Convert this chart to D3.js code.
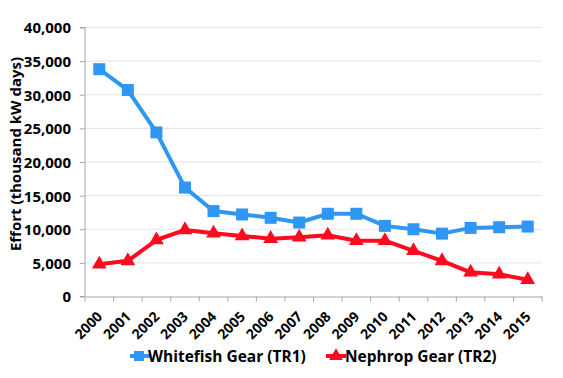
<!DOCTYPE html>
<html><head><meta charset="utf-8">
<script src="https://cdn.jsdelivr.net/npm/d3@7"></script>
<style>body{margin:0;background:#fff;} text{font-family:"Open Sans",Lato,sans-serif;font-weight:bold;}</style>
</head><body>
<svg id="c" width="563" height="378"></svg>
<script>
const years = ["2000","2001","2002","2003","2004","2005","2006","2007","2008","2009","2010","2011","2012","2013","2014","2015"];
const whitefish = [33800,30700,24400,16200,12700,12200,11700,11000,12300,12300,10500,10000,9350,10200,10300,10400];
const nephrop = [4800,5300,8400,9900,9400,9000,8600,8800,9100,8300,8300,6800,5300,3600,3300,2500];
const yTicks = [0,5000,10000,15000,20000,25000,30000,35000,40000];
const seriesNames = ["Whitefish Gear (TR1)","Nephrop Gear (TR2)"];
const blue = "#2f96f3", red = "#ff0a1e";

const svg = d3.select("#c");
const L = 85, R = 542, T = 27.5, B = 296.5;
const x = d3.scaleBand().domain(years).range([L, R]);
const y = d3.scaleLinear().domain([0, 40000]).range([B, T]);

// gridlines
svg.append("g").selectAll("line").data(yTicks.filter(d => d > 0)).join("line")
  .attr("x1", L).attr("x2", R).attr("y1", d => y(d)).attr("y2", d => y(d))
  .attr("stroke", "#e3e3e3").attr("stroke-width", 1);

// y axis
const ya = svg.append("g").attr("transform", `translate(${L},0)`)
  .call(d3.axisLeft(y).tickValues(yTicks).tickFormat(d3.format(",")).tickSize(5).tickPadding(9));
ya.select(".domain").attr("stroke", "#a6a6a6").attr("d", `M-5,${B}H0V${T}H-5`);
ya.selectAll(".tick line").attr("stroke", "#a6a6a6");
ya.selectAll(".tick text").attr("font-size", 15).attr("fill", "#000").attr("dy", "0.36em");

// x axis
const xa = svg.append("g").attr("transform", `translate(0,${B})`)
  .call(d3.axisBottom(x).tickSize(0).tickFormat(d => d));
xa.select(".domain").attr("stroke", "#a6a6a6");
xa.selectAll(".tick text")
  .attr("font-size", 14).attr("fill", "#000")
  .attr("text-anchor", "end")
  .attr("y", 0).attr("dy", "0")
  .attr("transform", "translate(4,21) rotate(-45)");
// boundary ticks
svg.append("g").selectAll("line").data(d3.range(years.length + 1)).join("line")
  .attr("x1", i => L + i * x.step()).attr("x2", i => L + i * x.step())
  .attr("y1", B).attr("y2", B + 5).attr("stroke", "#a6a6a6");

// y label
svg.append("text").attr("transform", `translate(21,154) rotate(-90)`)
  .attr("text-anchor", "middle").attr("font-size", 15).text("Effort (thousand kW days)");

const cx = d => x(d) + x.bandwidth() / 2;
const line = d3.line().x((d, i) => cx(years[i])).y(d => y(d));

svg.append("path").datum(whitefish).attr("d", line).attr("fill", "none")
  .attr("stroke", blue).attr("stroke-width", 4).attr("stroke-linejoin", "round");
svg.append("path").datum(nephrop).attr("d", line).attr("fill", "none")
  .attr("stroke", red).attr("stroke-width", 4).attr("stroke-linejoin", "round");

svg.append("g").selectAll("rect").data(whitefish).join("rect")
  .attr("x", (d, i) => cx(years[i]) - 6).attr("y", d => y(d) - 6)
  .attr("width", 12).attr("height", 12).attr("fill", blue);

const tri = d3.symbol().type(d3.symbolTriangle).size(95);
svg.append("g").selectAll("path").data(nephrop).join("path")
  .attr("d", tri).attr("fill", red)
  .attr("transform", (d, i) => `translate(${cx(years[i])},${y(d)})`);

// legend
const lg = svg.append("g");
lg.append("line").attr("x1", 130).attr("x2", 150).attr("y1", 356).attr("y2", 356).attr("stroke", blue).attr("stroke-width", 4);
lg.append("rect").attr("x", 134).attr("y", 351).attr("width", 10).attr("height", 10).attr("fill", blue);
lg.append("text").attr("x", 148).attr("y", 362).attr("font-size", 15.5).text(seriesNames[0]);
lg.append("line").attr("x1", 326).attr("x2", 346).attr("y1", 356).attr("y2", 356).attr("stroke", red).attr("stroke-width", 4);
lg.append("path").attr("d", d3.symbol().type(d3.symbolTriangle).size(80)).attr("fill", red).attr("transform", "translate(336,356)");
lg.append("text").attr("x", 345).attr("y", 362).attr("font-size", 15.5).text(seriesNames[1]);
</script>
</body></html>
